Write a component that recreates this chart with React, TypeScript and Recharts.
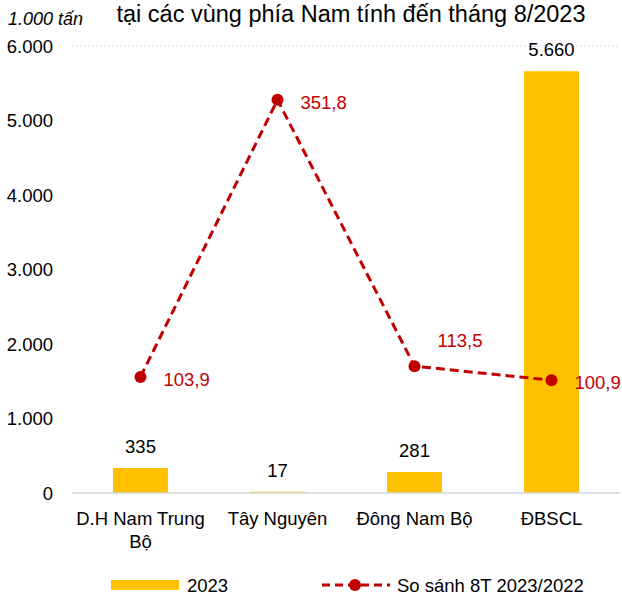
import React from 'react';
import {
  ComposedChart,
  Bar,
  Line,
  XAxis,
  YAxis,
  CartesianGrid,
  LabelList,
} from 'recharts';

const regions = ['D.H Nam Trung Bộ', 'Tây Nguyên', 'Đông Nam Bộ', 'ĐBSCL'];
const output2023 = [335, 17, 281, 5660];
const compare8T = [103.9, 351.8, 113.5, 100.9];
const yTicks = [0, 1000, 2000, 3000, 4000, 5000, 6000];

const FONT = '"Liberation Sans", Arial, sans-serif';
const YELLOW = '#FFC000';
const RED = '#C00000';

const data = regions.map((name, i) => ({
  name,
  output: output2023[i],
  ratio: compare8T[i],
}));

const thousands = (v: number) => String(v).replace(/\B(?=(\d{3})+(?!\d))/g, '.');
const decimalComma = (v: number) => v.toFixed(1).replace('.', ',');

// greedy word wrap, about 14 chars a line fits one category band
function wrap(label: string, maxChars = 14) {
  const lines: string[] = [];
  let cur = '';
  label.split(' ').forEach((w) => {
    const next = cur ? cur + ' ' + w : w;
    if (next.length > maxChars && cur) {
      lines.push(cur);
      cur = w;
    } else {
      cur = next;
    }
  });
  if (cur) lines.push(cur);
  return lines;
}

function CategoryTick(props: any) {
  const { x, y, payload } = props;
  const lines = wrap(String(payload.value));
  return (
    <text x={x} y={y + 24} textAnchor="middle" fontSize={18.5} fontFamily={FONT} fill="#000">
      {lines.map((l, i) => (
        <tspan key={i} x={x} dy={i === 0 ? 0 : 23}>
          {l}
        </tspan>
      ))}
    </text>
  );
}

function BarValue(props: any) {
  const { x, y, width, value } = props;
  return (
    <text
      x={x + width / 2}
      y={y - 15}
      textAnchor="middle"
      fontSize={18.5}
      fontFamily={FONT}
      fill="#000"
    >
      {thousands(value)}
    </text>
  );
}

function RatioValue(props: any) {
  const { x, y, value, index } = props;
  const above = index === 2;
  return (
    <text
      x={x + 23}
      y={above ? y - 19 : y + 9}
      textAnchor="start"
      fontSize={18.5}
      fontFamily={FONT}
      fill={RED}
    >
      {decimalComma(value)}
    </text>
  );
}

export default function App() {
  return (
    <div style={{ position: 'absolute', left: 0, top: 0, width: 622, height: 598, background: '#fff' }}>
      <ComposedChart
        width={622}
        height={598}
        data={data}
        margin={{ top: 46, right: 2, left: 0, bottom: 45 }}
      >
        <CartesianGrid vertical={false} stroke="#d9d9d9" strokeDasharray="2 2" />
        <XAxis
          dataKey="name"
          interval={0}
          height={60}
          tickLine={false}
          axisLine={{ stroke: '#d9d9d9', strokeWidth: 1.5 }}
          tick={<CategoryTick />}
        />
        <YAxis
          yAxisId="left"
          width={72}
          domain={[0, 6000]}
          ticks={yTicks}
          tickFormatter={thousands}
          axisLine={false}
          tickLine={false}
          tickSize={0}
          tickMargin={19}
          tick={{ fill: '#000', fontSize: 18.5, fontFamily: FONT }}
        />
        <YAxis yAxisId="right" orientation="right" hide domain={[0, 400]} />
        <Bar
          yAxisId="left"
          dataKey="output"
          fill={YELLOW}
          barSize={55}
          isAnimationActive={false}
        >
          <LabelList dataKey="output" content={<BarValue />} />
        </Bar>
        <Line
          yAxisId="right"
          dataKey="ratio"
          stroke={RED}
          strokeWidth={3}
          strokeDasharray="9 5"
          dot={{ r: 6, fill: RED, stroke: RED, strokeWidth: 0 }}
          activeDot={false}
          isAnimationActive={false}
        >
          <LabelList dataKey="ratio" content={<RatioValue />} />
        </Line>
      </ComposedChart>

      <svg
        width={622}
        height={598}
        style={{ position: 'absolute', left: 0, top: 0, pointerEvents: 'none' }}
        fontFamily={FONT}
      >
        <text x={351} y={22} textAnchor="middle" fontSize={23.5} fill="#000">
          tại các vùng phía Nam tính đến tháng 8/2023
        </text>
        <text x={8} y={25} fontSize={18} fontStyle="italic" fill="#000">
          1.000 tấn
        </text>
        {/* legend */}
        <rect x={111} y={580} width={68} height={10} fill={YELLOW} />
        <text x={187} y={592} fontSize={18.5} fill="#000">2023</text>
        <line x1={322} y1={585} x2={390} y2={585} stroke={RED} strokeWidth={3} strokeDasharray="8 5" />
        <circle cx={355} cy={585} r={6} fill={RED} />
        <text x={397} y={592} fontSize={18.5} fill="#000">So sánh 8T 2023/2022</text>
      </svg>
    </div>
  );
}
